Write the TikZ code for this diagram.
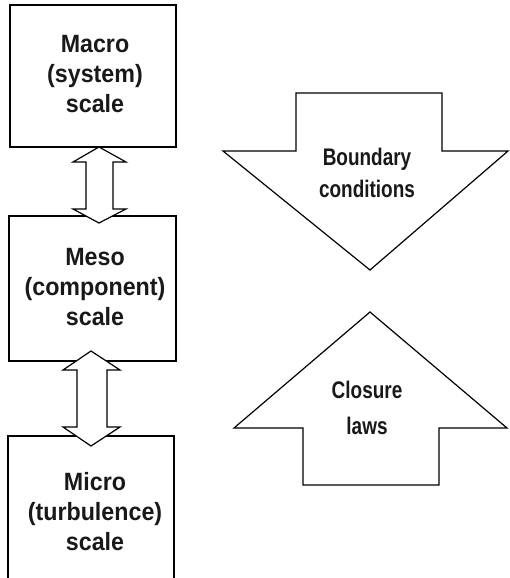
\documentclass[tikz,border=0pt]{standalone}
\usepackage{fontspec}
\setmainfont{Liberation Sans}
\newfontfamily\leftfont[FakeStretch=0.93]{Liberation Sans}
\newfontfamily\rightfont[FakeStretch=0.79]{Liberation Sans}
\begin{document}
\begin{tikzpicture}[x=1pt,y=-1pt,
  outline/.style={draw=black,line width=1.2pt,line join=miter,fill=white},
  bigtxt/.style={font=\leftfont\bfseries\fontsize{25}{30}\selectfont,align=center,text=black!90,inner sep=0pt},
  smalltxt/.style={font=\rightfont\bfseries\fontsize{24}{32}\selectfont,align=center,text=black!90,inner sep=0pt}]
\useasboundingbox (0,0) rectangle (509,578);
% scale boxes
\draw[outline] (10,5) rectangle (176,147);
\draw[outline] (9,216) rectangle (176,361);
\draw[outline,fill=none] (8,580) -- (8,436) -- (174,436) -- (174,580);
% double arrows between scales
\draw[outline] (99,147) -- (126,162) -- (113,162) -- (113,209) -- (126,209) -- (99,223)
  -- (73,209) -- (86,209) -- (86,162) -- (73,162) -- cycle;
\draw[outline] (91,351) -- (120,370) -- (107,370) -- (107,427) -- (120,427) -- (91,446)
  -- (63,427) -- (77,427) -- (77,370) -- (63,370) -- cycle;
% texts
\node[bigtxt] (macro) at (95,74) {Macro\\(system)\\scale};
\node[bigtxt] (meso) at (95,287) {Meso\\(component)\\scale};
\node[bigtxt] (micro) at (95,512) {Micro\\(turbulence)\\scale};
% big arrows
\draw[outline] (296,93) -- (442,93) -- (442,151) -- (508,151) -- (370,270) -- (223,151) -- (296,151) -- cycle;
\draw[outline] (370,312) -- (507,428) -- (439,428) -- (439,485) -- (303,485) -- (303,428) -- (234,428) -- cycle;
\node[smalltxt] (bc) at (367,173) {Boundary\\conditions};
\node[smalltxt,font=\rightfont\bfseries\fontsize{24}{36}\selectfont] (cl) at (367,408) {Closure\\laws};
\end{tikzpicture}
\end{document}
